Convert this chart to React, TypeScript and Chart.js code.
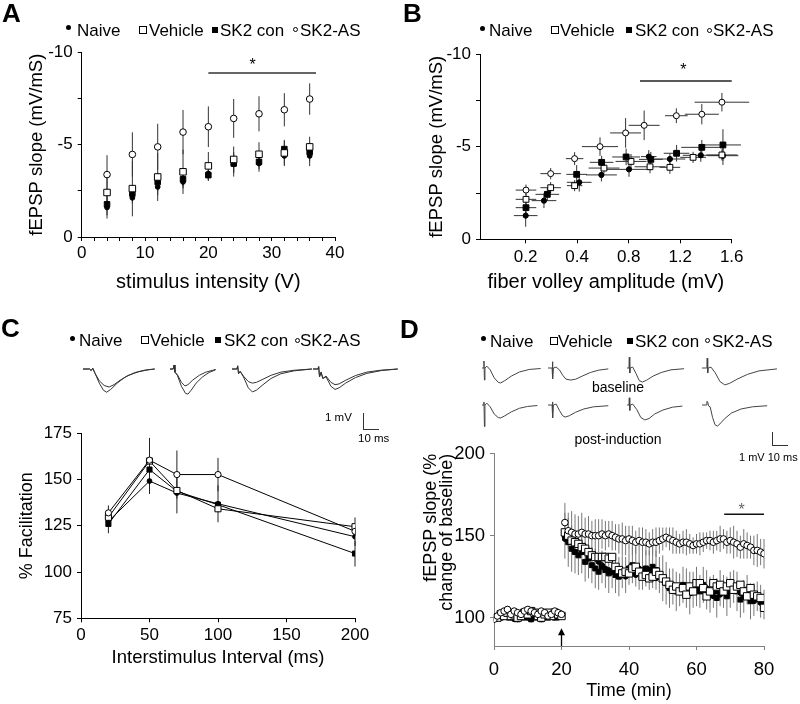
import React, { useEffect, useRef } from 'react';
import { Chart, registerables } from 'chart.js';

Chart.register(...registerables);

const FONT = "'Liberation Sans', Arial, Helvetica, sans-serif";
Chart.defaults.font.family = FONT;
Chart.defaults.color = '#000';

// ---------------- Panel A data ----------------
const A_INTENSITY = [4, 8, 12, 16, 20, 24, 28, 32, 36];
const A_NAIVE = [-1.6, -2.12, -2.71, -2.98, -3.44, -3.93, -3.98, -4.39, -4.39];
const A_NAIVE_ERR = [0.6, 0.3, 0.45, 0.35, 0.4, 0.66, 0.45, 0.55, 0.55];
const A_VEHICLE = [-2.41, -2.62, -3.25, -3.53, -3.85, -4.2, -4.48, -4.55, -4.88];
const A_VEHICLE_ERR = [0.9, 1.5, 1.3, 1.2, 0.75, 0.7, 0.65, 0.65, 0.55];
const A_SK2CON = [-1.77, -2.35, -2.98, -3.13, -3.35, -3.98, -4.07, -4.76, -4.6];
const A_SK2CON_ERR = [0.6, 0.4, 0.5, 0.4, 0.3, 0.5, 0.4, 0.5, 0.5];
const A_SK2AS = [-3.38, -4.47, -4.88, -5.68, -5.97, -6.42, -6.67, -6.89, -7.47];
const A_SK2AS_ERR = [1.05, 1.2, 1.25, 1.2, 1.1, 1.05, 0.95, 0.9, 0.85];
const A_SIG = { from: 20, to: 37, level: -8.88, star: 27 };

// ---------------- Panel B data (x = position on the fiber-volley axis, ticks at 1..5) ----------------
const B_X_TICK_POS = [1, 2, 3, 4, 5];
const B_X_TICK_LABELS = ['0.2', '0.4', '0.8', '1.2', '1.6'];
const B_NAIVE_X = [1.0, 1.355, 2.04, 2.47, 3.006, 3.39, 3.8, 4.4, 4.83];
const B_NAIVE_Y = [-1.28, -2.09, -3.08, -3.48, -3.78, -4.47, -4.34, -4.54, -4.52];
const B_NAIVE_XERR = [0.23, 0.24, 0.24, 0.3, 0.45, 0.15, 0.3, 0.35, 0.3];
const B_NAIVE_YERR = [0.6, 0.4, 0.5, 0.35, 0.4, 0.35, 0.3, 0.35, 0.5];
const B_VEHICLE_X = [1.006, 1.485, 1.95, 2.52, 3.045, 3.414, 3.8, 4.25, 4.81];
const B_VEHICLE_Y = [-2.16, -2.79, -2.9, -3.85, -4.21, -3.92, -3.89, -4.43, -4.56];
const B_VEHICLE_XERR = [0.2, 0.2, 0.15, 0.3, 0.3, 0.3, 0.2, 0.25, 0.3];
const B_VEHICLE_YERR = [0.3, 0.3, 0.3, 0.3, 0.4, 0.35, 0.35, 0.3, 0.3];
const B_SK2CON_X = [1.006, 1.42, 1.99, 2.475, 2.95, 3.43, 3.93, 4.42, 4.83];
const B_SK2CON_Y = [-1.71, -2.43, -3.51, -4.16, -4.45, -4.32, -4.65, -4.97, -5.1];
const B_SK2CON_XERR = [0.2, 0.23, 0.2, 0.23, 0.27, 0.23, 0.25, 0.4, 0.35];
const B_SK2CON_YERR = [0.4, 0.35, 0.5, 0.35, 0.45, 0.4, 0.45, 0.4, 0.85];
const B_SK2AS_X = [1.006, 1.485, 1.95, 2.443, 2.94, 3.3, 3.925, 4.42, 4.81];
const B_SK2AS_Y = [-2.66, -3.55, -4.36, -5.01, -5.75, -6.16, -6.68, -6.76, -7.41];
const B_SK2AS_XERR = [0.2, 0.2, 0.17, 0.35, 0.3, 0.3, 0.22, 0.33, 0.53];
const B_SK2AS_YERR = [0.3, 0.3, 0.35, 0.5, 0.8, 0.8, 0.4, 0.55, 0.5];
const B_SIG = { from: 3.22, to: 5.0, level: -8.56, star: 4.06 };

// ---------------- Panel C data ----------------
const C_ISI = [20, 50, 70, 100, 200];
const C_NAIVE = [127.4, 149.2, 142.7, 136.9, 119.1];
const C_NAIVE_ERR = [0, 7, 11, 10, 5];
const C_VEHICLE = [129.6, 160, 144.1, 134.2, 124.5];
const C_VEHICLE_ERR = [0, 0, 0, 0, 5];
const C_SK2CON = [126.0, 155.4, 143.6, 136.4, 110.0];
const C_SK2CON_ERR = [5, 0, 0, 0, 7];
const C_SK2AS = [132.0, 160.5, 152.7, 152.7, 122.0];
const C_SK2AS_ERR = [4, 12, 13, 9, 0];

// paired-pulse example traces (ms, mV)
const TC1_A = [[0, 0], [4, 0], [5, -0.1], [6, 0.05], [7.5, -0.3], [10, -0.9], [12.5, -1.35], [14.5, -1.48], [17, -1.3], [21, -0.9], [26, -0.5], [32, -0.22], [38, -0.07], [44, 0]];
const TC1_B = [[0, 0], [4, 0], [5, -0.1], [6, 0.05], [7.5, -0.3], [10, -0.75], [13, -1.05], [16, -1.15], [19, -1.0], [23, -0.7], [28, -0.4], [34, -0.18], [40, -0.05], [44, 0]];
const TC2_A = [[0, 0], [2, 0], [2.5, 0.25], [3, -0.2], [4.5, -0.4], [7, -1.1], [9.5, -1.55], [11, -1.6], [13, -1.35], [16, -0.9], [20, -0.5], [24, -0.22], [28, -0.05]];
const TC2_B = [[0, 0], [2, 0], [2.5, 0.25], [3, -0.2], [4.5, -0.35], [7, -0.85], [9.2, -1.08], [11, -1.0], [14, -0.7], [18, -0.4], [22, -0.2], [28, -0.03]];
const TC3_A = [[0, 0], [3, 0], [3.5, 0.2], [4, -0.3], [5, -0.15], [7, -0.5], [10, -1.2], [12.5, -1.46], [15, -1.35], [19, -1.0], [24, -0.6], [30, -0.3], [38, -0.12], [49, 0]];
const TC3_B = [[0, 0], [3, 0], [3.5, 0.2], [4, -0.3], [5, -0.15], [7, -0.45], [10, -0.8], [12.5, -0.9], [15, -0.85], [19, -0.65], [24, -0.4], [30, -0.2], [38, -0.08], [49, 0]];
const TC4_A = [[0, 0], [3, 0], [3.5, 0.15], [4, -0.5], [5, -0.2], [6, -0.6], [8, -0.5], [11, -1.1], [13.5, -1.3], [16, -1.2], [20, -0.9], [26, -0.55], [33, -0.28], [42, -0.1], [52, 0]];
const TC4_B = [[0, 0], [3, 0], [3.5, 0.15], [4, -0.5], [5, -0.2], [6, -0.6], [8, -0.45], [11, -0.85], [13.5, -1.0], [16, -0.95], [20, -0.72], [26, -0.42], [33, -0.2], [42, -0.07], [52, 0]];

// ---------------- Panel D data ----------------
const D_TIME = [
  0, 1, 2, 3, 4, 5, 6, 7, 8, 9,
  10, 11, 12, 13, 14, 15, 16, 17, 18, 19,
  20, 21, 22, 23, 24, 25, 26, 27, 28, 29,
  30, 31, 32, 33, 34, 35, 36, 37, 38, 39,
  40, 41, 42, 43, 44, 45, 46, 47, 48, 49,
  50, 51, 52, 53, 54, 55, 56, 57, 58, 59,
  60, 61, 62, 63, 64, 65, 66, 67, 68, 69,
  70, 71, 72, 73, 74, 75, 76, 77, 78, 79,
  80,
];
const D_SK2AS = [
  99, 101, 103, 104, 105, 102, 104, 103, 102, 104,
  105, 104, 103, 102, 104, 103, 101, 102, 104, 103,
  102, 158, 153, 152, 151, 151, 152, 151, 151, 150,
  150, 150, 151, 150, 151, 150, 149, 148, 148, 147,
  148, 147, 146, 147, 146, 146, 145, 146, 146, 147,
  148, 149, 148, 147, 146, 145, 146, 146, 145, 144,
  145, 145, 146, 147, 147, 146, 147, 148, 148, 146,
  147, 146, 145, 143, 145, 144, 143, 141, 141, 140,
  139,
];
const D_SK2AS_ERR = [
  2, 2, 2, 2, 2, 2, 2, 2, 2, 2,
  2, 2, 2, 2, 2, 2, 2, 2, 2, 2,
  2, 12, 11, 13, 12, 11, 12, 10, 11, 9,
  10, 10, 9, 9, 8, 9, 8, 9, 10, 9,
  8, 9, 7, 8, 9, 8, 7, 8, 9, 8,
  7, 6, 7, 8, 7, 6, 7, 8, 6, 5,
  6, 7, 6, 5, 6, 7, 6, 8, 6, 7,
  8, 10, 8, 7, 9, 8, 7, 9, 10, 8,
  9,
];
const D_VEHICLE = [
  100, 100, 102, 101, 103, 101, 102, 100, 101, 103,
  102, 104, 103, 101, 100, 102, 103, 101, 103, 102,
  101, 152, 150, 147, 146, 145, 143, 142, 140, 138,
  137, 137, 137, 137, 136, 137, 131, 129, 127, 128,
  127, 130, 131, 128, 125, 126, 124, 125, 128, 126,
  124, 122, 120, 117, 119, 116, 118, 114, 119, 116,
  121, 121, 118, 113, 116, 121, 119, 120, 116, 119,
  121, 117, 119, 120, 116, 113, 118, 114, 113, 112,
  106,
];
const D_SK2CON = [
  100, 101, 100, 102, 101, 100, 101, 99, 100, 101,
  100, 99, 101, 100, 99, 101, 100, 101, 100, 102,
  101, 150, 146, 142, 140, 138, 140, 134, 136, 132,
  130, 128, 131, 129, 127, 128, 126, 125, 128, 126,
  130, 132, 131, 128, 127, 130, 129, 131, 129, 126,
  124, 121, 118, 119, 116, 117, 120, 118, 115, 117,
  119, 116, 120, 117, 114, 116, 112, 118, 116, 113,
  117, 119, 116, 111, 113, 117, 110, 111, 113, 110,
  108,
];
const D_SK2CON_ERR = [
  2, 2, 2, 2, 2, 2, 2, 2, 2, 2,
  2, 2, 2, 2, 2, 2, 2, 2, 2, 2,
  2, 14, 15, 14, 13, 12, 13, 12, 12, 11,
  12, 11, 10, 11, 12, 10, 11, 12, 10, 11,
  10, 11, 12, 11, 10, 11, 12, 13, 12, 11,
  14, 13, 12, 11, 12, 10, 11, 12, 13, 11,
  12, 10, 11, 12, 11, 10, 12, 11, 10, 12,
  11, 10, 12, 11, 10, 9, 11, 10, 9, 10,
  9,
];
const D_NAIVE = [
  99, 100, 101, 102, 100, 101, 99, 101, 102, 100,
  101, 99, 100, 101, 102, 100, 101, 102, 101, 100,
  101, 148, 147, 148, 147, 146, 144, 143, 141, 138,
  136, 134, 132, 130, 129, 128, 127, 128, 126, 125,
  127, 128, 126, 130, 129, 127, 125, 126, 124, 126,
  123, 121, 119, 120, 118, 116, 118, 117, 115, 118,
  117, 119, 117, 118, 115, 113, 116, 114, 117, 115,
  118, 119, 117, 115, 117, 116, 112, 110, 112, 109,
  108,
];
const D_Y_TICKS = [100, 150, 200];
const D_SIG = { from: 68.2, to: 80, level: 163, star: 73.4 };
const D_ARROW = { at: 20, from: 82.7, to: 93.5 };

// single example traces, baseline row and post-induction row (ms, mV)
const TD1 = [[0, 0], [1, 0], [1.2, 0.39], [1.5, -0.67], [1.8, 0], [3, 0.1], [5, -0.1], [7.5, -0.55], [10, -0.8], [11.5, -0.83], [14, -0.7], [18, -0.45], [23, -0.22], [29, -0.08], [36, -0.03]];
const TD2 = [[0, 0], [2.5, 0], [2.7, 0.35], [3, -0.6], [3.3, 0], [5, 0.05], [7, -0.1], [9, -0.4], [11, -0.62], [14, -0.67], [17, -0.62], [21, -0.45], [26, -0.25], [31, -0.12], [37, -0.05]];
const TD3 = [[0, 0], [1.2, 0], [1.4, 0.6], [1.7, -0.28], [2, 0], [3.5, 0.05], [5.5, -0.3], [7.5, -0.7], [9.5, -0.78], [12, -0.68], [16, -0.45], [21, -0.25], [27, -0.1], [35, -0.04]];
const TD4 = [[0, 0], [3, 0], [3.2, 0.55], [3.5, -0.28], [3.8, 0], [5.5, 0.05], [8, -0.25], [11, -0.75], [14, -0.94], [17, -0.85], [22, -0.6], [28, -0.35], [35, -0.16], [46, -0.05]];
const TD5 = [[0, 0], [1, 0], [1.2, 0.17], [1.5, -1.2], [1.8, 0], [3, 0.1], [5, -0.1], [7.5, -0.5], [10, -0.7], [11.5, -0.72], [14, -0.6], [18, -0.38], [23, -0.18], [28, -0.08], [34, -0.03]];
const TD6 = [[0, 0], [2.5, 0], [2.7, 0.17], [3, -0.72], [3.3, 0], [5, 0.05], [7, -0.3], [9, -0.6], [10.5, -0.67], [13, -0.6], [17, -0.4], [22, -0.22], [28, -0.1], [37, -0.04]];
const TD7 = [[0, 0], [1.2, 0], [1.4, 0.4], [1.7, -0.3], [2, 0], [3.5, 0.05], [6, -0.25], [8.5, -0.7], [11, -0.83], [13.5, -0.75], [17, -0.5], [22, -0.28], [28, -0.12], [34, -0.06]];
const TD8 = [[0, 0], [2.5, 0], [3, 0.2], [3.5, 0.17], [4, -0.05], [5, -0.1], [6.5, -0.7], [8, -1.1], [9.5, -1.17], [11, -1.05], [14, -0.75], [18, -0.45], [24, -0.22], [31, -0.1], [40, -0.04]];

// ---------------- helpers ----------------
type Pt = { x: number; y: number };
const pts = (xs: number[], ys: number[]): Pt[] => xs.map((x, i) => ({ x, y: ys[i] }));

const KIND: Record<string, { style: string; fill: string }> = {
  naive: { style: 'circle', fill: '#000' },
  veh: { style: 'rect', fill: '#fff' },
  con: { style: 'rect', fill: '#000' },
  as: { style: 'circle', fill: '#fff' },
};

function ds(label: string, data: Pt[], kind: string, r: number, extra: any = {}) {
  return {
    label,
    data,
    pointStyle: KIND[kind].style,
    pointRadius: r,
    pointHoverRadius: r,
    pointBackgroundColor: KIND[kind].fill,
    pointBorderColor: '#000',
    pointBorderWidth: 1,
    borderColor: '#000',
    backgroundColor: KIND[kind].fill,
    borderWidth: 1,
    showLine: false,
    tension: 0,
    ...extra,
  };
}

const errorBars = {
  id: 'errorBars',
  beforeDatasetsDraw(chart: any) {
    const { ctx } = chart;
    const xs = chart.scales.x;
    const ys = chart.scales.y;
    ctx.save();
    chart.data.datasets.forEach((d: any) => {
      if (!d.errY && !d.errX) return;
      ctx.strokeStyle = d.errColor || '#333';
      ctx.lineWidth = d.errWidth || 1;
      d.data.forEach((p: Pt, i: number) => {
        const px = xs.getPixelForValue(p.x);
        const py = ys.getPixelForValue(p.y);
        const ey = d.errY ? d.errY[i] : 0;
        const ex = d.errX ? d.errX[i] : 0;
        ctx.beginPath();
        if (ey) {
          ctx.moveTo(px, ys.getPixelForValue(p.y - ey));
          ctx.lineTo(px, ys.getPixelForValue(p.y + ey));
        }
        if (ex) {
          ctx.moveTo(xs.getPixelForValue(p.x - ex), py);
          ctx.lineTo(xs.getPixelForValue(p.x + ex), py);
        }
        ctx.stroke();
      });
    });
    ctx.restore();
  },
};

function sigPlugin(sig: { from: number; to: number; level: number; star: number }, lineColor: string, starColor: string, starGap: number, arrow?: { at: number; from: number; to: number }) {
  return {
    id: 'sigBar',
    afterDatasetsDraw(chart: any) {
      const { ctx } = chart;
      const xs = chart.scales.x;
      const ys = chart.scales.y;
      const y0 = ys.getPixelForValue(sig.level);
      ctx.save();
      ctx.strokeStyle = lineColor;
      ctx.lineWidth = 1.5;
      ctx.beginPath();
      ctx.moveTo(xs.getPixelForValue(sig.from), y0);
      ctx.lineTo(xs.getPixelForValue(sig.to), y0);
      ctx.stroke();
      ctx.fillStyle = starColor;
      ctx.font = `16px ${FONT}`;
      ctx.textAlign = 'center';
      ctx.textBaseline = 'alphabetic';
      ctx.fillText('*', xs.getPixelForValue(sig.star), y0 - starGap);
      if (arrow) {
        const ax = xs.getPixelForValue(arrow.at);
        const yb = ys.getPixelForValue(arrow.from);
        const yt = ys.getPixelForValue(arrow.to);
        ctx.strokeStyle = '#000';
        ctx.fillStyle = '#000';
        ctx.lineWidth = 1.3;
        ctx.beginPath();
        ctx.moveTo(ax, yb);
        ctx.lineTo(ax, yt + 6);
        ctx.stroke();
        ctx.beginPath();
        ctx.moveTo(ax, yt);
        ctx.lineTo(ax - 3.5, yt + 7);
        ctx.lineTo(ax + 3.5, yt + 7);
        ctx.closePath();
        ctx.fill();
      }
      ctx.restore();
    },
  };
}

function axis(o: any) {
  return {
    type: 'linear',
    position: o.horizontal ? 'bottom' : 'left',
    min: o.min,
    max: o.max,
    reverse: !!o.reverse,
    afterFit: (s: any) => {
      if (o.horizontal) s.height = o.fit;
      else s.width = o.fit;
    },
    afterBuildTicks: (s: any) => {
      if (o.tickList) s.ticks = o.tickList.map((v: number) => ({ value: v }));
    },
    ticks: {
      stepSize: o.stepSize,
      autoSkip: false,
      maxRotation: 0,
      minRotation: 0,
      includeBounds: false,
      padding: o.tickPad,
      color: '#000',
      font: { size: o.tickSize },
      callback: o.labels || ((v: any) => `${v}`),
    },
    grid: { display: true, drawOnChartArea: false, drawTicks: true, tickLength: 4, color: o.color || '#000', lineWidth: 1 },
    border: { display: true, color: o.color || '#000', width: 1 },
    title: {
      display: true,
      text: o.title,
      color: '#000',
      align: o.titleAlign || 'center',
      font: { size: o.titleSize, lineHeight: o.titleLH || 1.2 },
      padding: o.horizontal ? { top: 0, bottom: o.titlePad } : { top: o.titlePad, bottom: 0 },
    },
  };
}

function baseOptions(padding: any, scales: any) {
  return {
    responsive: false,
    animation: false,
    devicePixelRatio: 1,
    events: [],
    layout: { padding },
    plugins: { legend: { display: false }, tooltip: { enabled: false } },
    scales,
  };
}

const every5 = (v: any) => (Math.abs(v % 5) < 1e-9 ? `${v}` : '');

// ---------------- chart configs ----------------
function configA() {
  return {
    type: 'scatter',
    data: {
      datasets: [
        ds('SK2-AS', pts(A_INTENSITY, A_SK2AS), 'as', 3.3, { errY: A_SK2AS_ERR, errColor: '#333' }),
        ds('Vehicle', pts(A_INTENSITY, A_VEHICLE), 'veh', 4.6, { errY: A_VEHICLE_ERR, errColor: '#333' }),
        ds('SK2 con', pts(A_INTENSITY, A_SK2CON), 'con', 3.9, { errY: A_SK2CON_ERR, errColor: '#333' }),
        ds('Naive', pts(A_INTENSITY, A_NAIVE), 'naive', 2.4, { errY: A_NAIVE_ERR, errColor: '#333' }),
      ],
    },
    options: baseOptions({ top: 52.3, right: 65, bottom: 0, left: 0 }, {
      x: axis({ horizontal: true, min: 0, max: 40, stepSize: 2, fit: 63, tickPad: 2, tickSize: 17, labels: (v: any) => (v % 10 === 0 ? `${v}` : ''), title: 'stimulus intensity (V)', titleSize: 20, titlePad: 6 }),
      y: axis({ min: -10, max: 0, reverse: true, stepSize: 2.5, fit: 81.7, tickPad: 5, tickSize: 17, labels: every5, title: 'fEPSP slope (mV/mS)', titleSize: 18.5, titlePad: 25.9 }),
    }),
    plugins: [errorBars, sigPlugin(A_SIG, '#333', '#000', 2.8)],
  };
}

function configB() {
  return {
    type: 'scatter',
    data: {
      datasets: [
        ds('SK2-AS', pts(B_SK2AS_X, B_SK2AS_Y), 'as', 3.0, { errY: B_SK2AS_YERR, errX: B_SK2AS_XERR }),
        ds('SK2 con', pts(B_SK2CON_X, B_SK2CON_Y), 'con', 4.1, { errY: B_SK2CON_YERR, errX: B_SK2CON_XERR }),
        ds('Vehicle', pts(B_VEHICLE_X, B_VEHICLE_Y), 'veh', 4.1, { errY: B_VEHICLE_YERR, errX: B_VEHICLE_XERR }),
        ds('Naive', pts(B_NAIVE_X, B_NAIVE_Y), 'naive', 2.6, { errY: B_NAIVE_YERR, errX: B_NAIVE_XERR }),
      ],
    },
    options: baseOptions({ top: 54.3, right: 68.3, bottom: 0, left: 0 }, {
      x: axis({ horizontal: true, min: 0.113, max: 5, tickList: B_X_TICK_POS, fit: 60.7, tickPad: 4, tickSize: 17, labels: (_v: any, i: number) => B_X_TICK_LABELS[i] ?? '', title: 'fiber volley amplitude (mV)', titleSize: 20, titlePad: 6 }),
      y: axis({ min: -10, max: 0, reverse: true, stepSize: 2.5, fit: 80, tickPad: 5, tickSize: 17, labels: every5, title: 'fEPSP slope (mV/mS)', titleSize: 18.5, titlePad: 25.9 }),
    }),
    plugins: [errorBars, sigPlugin(B_SIG, '#222', '#000', 5.5)],
  };
}

function configC() {
  const line = { showLine: true, borderColor: '#000', borderWidth: 1, errColor: '#222' };
  return {
    type: 'scatter',
    data: {
      datasets: [
        ds('SK2-AS', pts(C_ISI, C_SK2AS), 'as', 3.1, { ...line, errY: C_SK2AS_ERR }),
        ds('Vehicle', pts(C_ISI, C_VEHICLE), 'veh', 4.3, { ...line, errY: C_VEHICLE_ERR }),
        ds('SK2 con', pts(C_ISI, C_SK2CON), 'con', 3.6, { ...line, errY: C_SK2CON_ERR }),
        ds('Naive', pts(C_ISI, C_NAIVE), 'naive', 2.4, { ...line, errY: C_NAIVE_ERR }),
      ],
    },
    options: baseOptions({ top: 33.3, right: 45, bottom: 0, left: 0 }, {
      x: axis({ horizontal: true, min: 0, max: 200, stepSize: 50, fit: 61.7, tickPad: 3, tickSize: 17, title: 'Interstimulus Interval (ms)', titleSize: 18.5, titlePad: 10.9 }),
      y: axis({ min: 75, max: 175, stepSize: 25, fit: 81, tickPad: 5, tickSize: 17, title: '% Facilitation', titleSize: 18, titlePad: 16.2 }),
    }),
    plugins: [errorBars],
  };
}

function configD() {
  return {
    type: 'scatter',
    data: {
      datasets: [
        ds('SK2-AS', pts(D_TIME, D_SK2AS), 'as', 3.3, { errY: D_SK2AS_ERR, errColor: '#777' }),
        ds('Vehicle', pts(D_TIME, D_VEHICLE), 'veh', 5.2),
        ds('SK2 con', pts(D_TIME, D_SK2CON), 'con', 3.5, { errY: D_SK2CON_ERR, errColor: '#777' }),
        ds('Naive', pts(D_TIME, D_NAIVE), 'naive', 2.5),
      ],
    },
    options: baseOptions({ top: 53.7, right: 36, bottom: 0, left: 0 }, {
      x: axis({ horizontal: true, min: 0, max: 80, stepSize: 20, fit: 58, tickPad: 9, tickSize: 18.5, color: '#808080', title: 'Time (min)', titleSize: 18, titlePad: 2.2 }),
      y: axis({ min: 82.7, max: 200, tickList: D_Y_TICKS, fit: 94, tickPad: 5, tickSize: 18.5, color: '#808080', title: ['fEPSP slope (%', 'change of baseline)'], titleSize: 18, titleLH: 16.5 / 18, titleAlign: 'end', titlePad: 22.5 }),
    }),
    plugins: [errorBars, sigPlugin(D_SIG, '#111', '#666', -0.5, D_ARROW)],
  };
}

function traceConfig(lines: number[][][], xMax: number, yMin: number, yMax: number, color: string) {
  return {
    type: 'scatter',
    data: {
      datasets: lines.map((l) => ({
        data: l.map(([x, y]) => ({ x, y })),
        showLine: true,
        borderColor: color,
        borderWidth: 1,
        pointRadius: 0,
        tension: 0,
      })),
    },
    options: {
      responsive: false,
      animation: false,
      devicePixelRatio: 1,
      events: [],
      layout: { padding: 0 },
      plugins: { legend: { display: false }, tooltip: { enabled: false } },
      scales: {
        x: { type: 'linear', display: false, min: 0, max: xMax },
        y: { type: 'linear', display: false, min: yMin, max: yMax },
      },
    },
  };
}

// ---------------- components ----------------
function ChartCanvas({ left, top, width, height, make }: { left: number; top: number; width: number; height: number; make: () => any }) {
  const ref = useRef<HTMLCanvasElement | null>(null);
  useEffect(() => {
    const chart = new Chart(ref.current as HTMLCanvasElement, make());
    return () => chart.destroy();
  }, []);
  return <canvas ref={ref} width={width} height={height} style={{ position: 'absolute', left, top, width, height }} />;
}

function Trace({ left, top, height, base, pxPerMs, pxPerMv, lines, color }: any) {
  const maxMs = Math.max(...lines.flat().map((p: number[]) => p[0]));
  const width = Math.ceil(maxMs * pxPerMs) + 2;
  const xMax = width / pxPerMs;
  const yMax = base / pxPerMv;
  const yMin = -(height - base) / pxPerMv;
  return <ChartCanvas left={left} top={top} width={width} height={height} make={() => traceConfig(lines, xMax, yMin, yMax, color)} />;
}

const abs = (left: number, top: number, extra: any = {}) => ({ position: 'absolute' as const, left, top, ...extra });

function Legend({ b, xs }: { b: number; xs: number[] }) {
  const text = (x: number, s: string) => (
    <span style={abs(x, b - 14.4, { font: `17px ${FONT}`, lineHeight: '17px', whiteSpace: 'nowrap', color: '#000' })}>{s}</span>
  );
  const my = b - 6.5;
  return (
    <>
      <div style={abs(xs[0] - 2.5, b - 8.5 - 2.5, { width: 5, height: 5, borderRadius: '50%', background: '#000' })} />
      {text(xs[1], 'Naive')}
      <div style={abs(xs[2] - 4, my - 4, { width: 8, height: 8, border: '1px solid #000', boxSizing: 'border-box', background: '#fff' })} />
      {text(xs[3], 'Vehicle')}
      <div style={abs(xs[4] - 3, my - 3, { width: 6, height: 6, background: '#000' })} />
      {text(xs[5], 'SK2 con')}
      <div style={abs(xs[6] - 2.5, my - 2.5, { width: 5, height: 5, border: '1px solid #000', boxSizing: 'border-box', borderRadius: '50%' })} />
      {text(xs[7], 'SK2-AS')}
    </>
  );
}

function Letter({ left, top, ch }: { left: number; top: number; ch: string }) {
  return <div style={abs(left, top, { font: `bold 26px ${FONT}`, lineHeight: '26px', color: '#000' })}>{ch}</div>;
}

function Label({ left, top, text, size, width, align }: any) {
  return (
    <div style={abs(left, top, { font: `${size}px ${FONT}`, lineHeight: `${size}px`, whiteSpace: 'nowrap', color: '#000', width, textAlign: align || 'left' })}>{text}</div>
  );
}

const C_TRACE_LINES = [[TC1_A, TC1_B], [TC2_A, TC2_B], [TC3_A, TC3_B], [TC4_A, TC4_B]];
const C_TRACE_LEFT = [83, 170, 232, 313];
const D_TRACE_ROW1 = [TD1, TD2, TD3, TD4];
const D_TRACE_ROW2 = [TD5, TD6, TD7, TD8];
const D_TRACE_LEFT = [482, 548, 627, 702];

export default function App() {
  return (
    <div style={{ position: 'absolute', left: 0, top: 0, width: 800, height: 704, background: '#fff', overflow: 'hidden' }}>
      <ChartCanvas left={0} top={0} width={400} height={300} make={configA} />
      <ChartCanvas left={400} top={0} width={400} height={300} make={configB} />
      <ChartCanvas left={0} top={400} width={400} height={280} make={configC} />
      <ChartCanvas left={400} top={400} width={400} height={304} make={configD} />

      {C_TRACE_LINES.map((lines, i) => (
        <Trace key={`c${i}`} left={C_TRACE_LEFT[i]} top={361} height={40} base={8} pxPerMs={1.63} pxPerMv={15.7} lines={lines} color="#333" />
      ))}
      {D_TRACE_ROW1.map((l, i) => (
        <Trace key={`d1${i}`} left={D_TRACE_LEFT[i]} top={356} height={36} base={12} pxPerMs={1.63} pxPerMv={18} lines={[l]} color="#444" />
      ))}
      {D_TRACE_ROW2.map((l, i) => (
        <Trace key={`d2${i}`} left={D_TRACE_LEFT[i]} top={393} height={36} base={12} pxPerMs={1.63} pxPerMv={18} lines={[l]} color="#444" />
      ))}

      {/* scale bars */}
      <div style={abs(362.5, 413, { width: 1, height: 16, background: '#333' })} />
      <div style={abs(362.5, 428.5, { width: 16.5, height: 1, background: '#333' })} />
      <Label left={325} top={412.3} text="1 mV" size={11.5} />
      <Label left={358} top={433.3} text="10 ms" size={11.5} />
      <div style={abs(771.5, 432, { width: 1, height: 13.5, background: '#333' })} />
      <div style={abs(771.5, 445, { width: 16.5, height: 1, background: '#333' })} />
      <Label left={739} top={452.3} text="1 mV 10 ms" size={11} />
      <Label left={568} top={380} text="baseline" size={14} width={100} align="center" />
      <Label left={568} top={432} text="post-induction" size={14} width={100} align="center" />

      <Legend b={36} xs={[68, 77, 142.5, 149, 215, 220, 295.5, 300]} />
      <Legend b={36.7} xs={[482, 489, 555, 560, 628.5, 635, 709.5, 713]} />
      <Legend b={346.7} xs={[72, 79, 145, 150, 217.5, 224, 297, 300]} />
      <Legend b={347} xs={[483, 490, 553.5, 558, 629.5, 635, 707, 712]} />

      <Letter left={2} top={0} ch="A" />
      <Letter left={403} top={0} ch="B" />
      <Letter left={1} top={315} ch="C" />
      <Letter left={400} top={316} ch="D" />
    </div>
  );
}
